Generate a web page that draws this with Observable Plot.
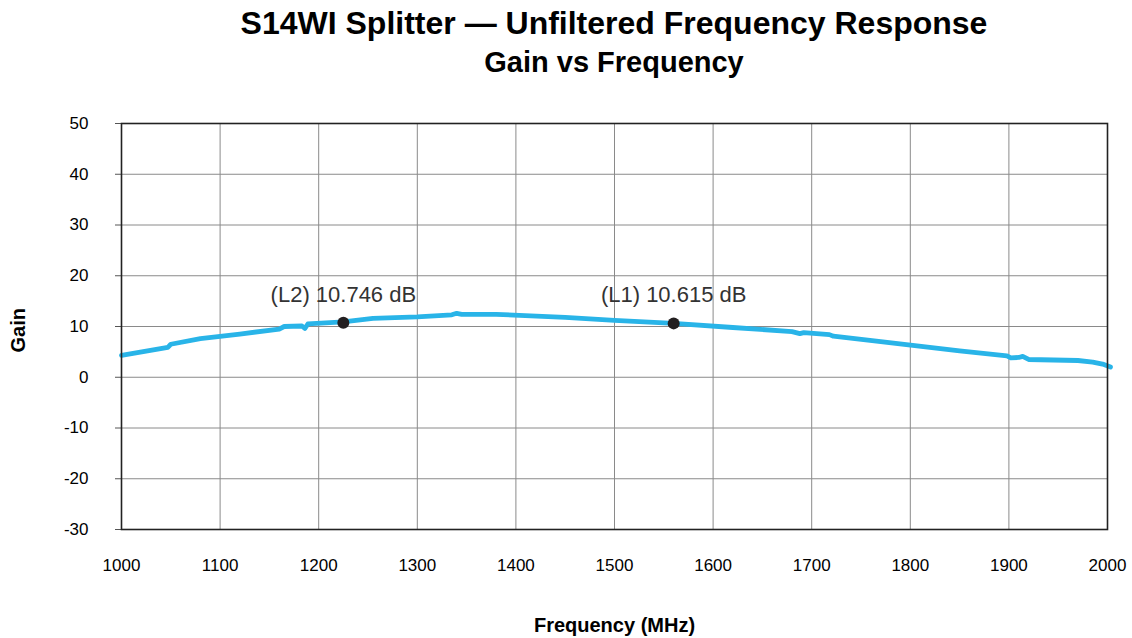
<!DOCTYPE html>
<html>
<head>
<meta charset="utf-8">
<script src="https://cdn.jsdelivr.net/npm/d3@7"></script>
<script src="https://cdn.jsdelivr.net/npm/@observablehq/plot@0.6"></script>
<style>
  body { margin: 0; background: #fff; font-family: "Liberation Sans", Arial, sans-serif; }
  #head { height: 90px; box-sizing: border-box; padding-left: 121px; padding-right: 25px; text-align: center; color: #000; }
  #t1 { font-weight: bold; font-size: 32px; padding-top: 5px; line-height: 36px; }
  #t2 { font-weight: bold; font-size: 29px; padding-top: 4px; line-height: 34px; }
</style>
</head>
<body>
<div id="head"><div id="t1">S14WI Splitter — Unfiltered Frequency Response</div><div id="t2">Gain vs Frequency</div></div>
<div id="chart"></div>
<script>
const freq = [1000,1047,1050,1080,1120,1160,1165,1183,1186,1189,1225,1255,1300,1335,1340,1345,1380,1450,1500,1560,1620,1680,1688,1692,1718,1722,1770,1850,1898,1902,1910,1914,1920,1970,1985,1995,2003];
const gain = [4.3,5.9,6.5,7.6,8.5,9.5,10.0,10.1,9.6,10.5,10.9,11.6,11.9,12.3,12.6,12.4,12.4,11.8,11.2,10.6,9.8,9.0,8.6,8.8,8.4,8.1,7.0,5.2,4.2,3.8,3.9,4.1,3.5,3.3,3.0,2.6,2.0];
const markerFreq = [1225, 1560];
const markerGain = [10.746, 10.615];
const markerText = ["(L2) 10.746 dB", "(L1) 10.615 dB"];
const xTicks = [1000,1100,1200,1300,1400,1500,1600,1700,1800,1900,2000];
const yTicks = [-30,-20,-10,0,10,20,30,40,50];

const data = freq.map((f, i) => ({f, g: gain[i]}));
const markers = markerFreq.map((f, i) => ({f, g: markerGain[i], label: markerText[i]}));

const chart = Plot.plot({
  width: 1132,
  height: 548,
  marginLeft: 121,
  marginRight: 25,
  marginTop: 33,
  marginBottom: 109,
  style: { fontFamily: "Liberation Sans, Arial, sans-serif", fontSize: "16px", color: "#000", background: "#fff" },
  x: { domain: [1000, 2000], ticks: xTicks },
  y: { domain: [-30, 50], ticks: yTicks },
  marks: [
    Plot.gridX(xTicks, { stroke: "#8a8a8a", strokeOpacity: 1, strokeWidth: 1 }),
    Plot.gridY(yTicks, { stroke: "#8a8a8a", strokeOpacity: 1, strokeWidth: 1 }),
    Plot.axisX({ ticks: xTicks, tickFormat: d => String(d), tickSize: 0, tickPadding: 29, label: null, fontSize: 17 }),
    Plot.axisY({ ticks: yTicks, tickFormat: d => String(d), tickSize: 6, tickPadding: 27, label: null, fontSize: 17, stroke: "#555" }),
    Plot.line(data, { x: "f", y: "g", stroke: "#29b4e8", strokeWidth: 4.8, strokeLinejoin: "round", strokeLinecap: "round" }),
    Plot.dot(markers, { x: "f", y: "g", r: 6, fill: "#231f20", stroke: "none" }),
    Plot.text(markers, { x: "f", y: "g", text: "label", dy: -28, fontSize: 22, fill: "#333" }),
    Plot.frame({ stroke: "#222", strokeWidth: 1.6 }),
    Plot.text(["Frequency (MHz)"], { frameAnchor: "bottom", dy: 102, fontWeight: "bold", fontSize: 20, fill: "#000" }),
    Plot.text(["Gain"], { frameAnchor: "left", dx: -103, dy: 26, rotate: -90, fontWeight: "bold", fontSize: 20, fill: "#000" })
  ]
});
document.getElementById("chart").appendChild(chart);
</script>
</body>
</html>
